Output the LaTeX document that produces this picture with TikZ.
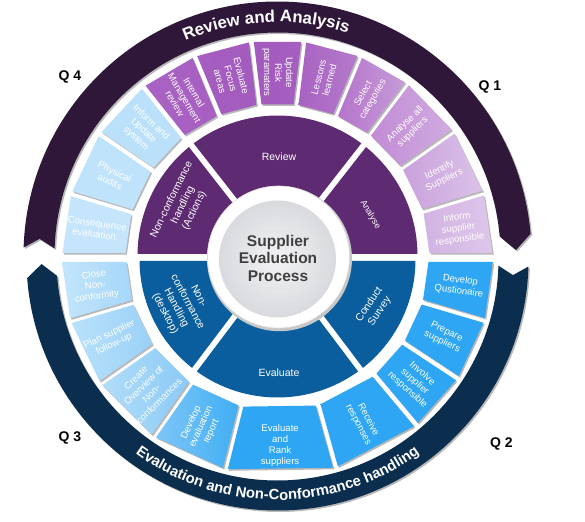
\documentclass[tikz,border=0pt]{standalone}
\usepackage{fontspec}
\setmainfont{Liberation Sans}
\usetikzlibrary{decorations.text}
\definecolor{bandP}{HTML}{2E1739}
\definecolor{bandB}{HTML}{0B2E4E}
\definecolor{segP}{HTML}{5E2A72}
\definecolor{segB}{HTML}{0B5E9E}
\definecolor{ctext}{HTML}{404040}
\definecolor{shadowc}{HTML}{B8B8B8}
\definecolor{discin}{HTML}{F3F3F4}
\definecolor{discout}{HTML}{D8DADE}
% upper boxes
\definecolor{uA}{HTML}{C4E5FB}
\definecolor{uB}{HTML}{BFE3FA}
\definecolor{uC}{HTML}{BBE1FA}
\definecolor{p4a}{HTML}{A963C3}\definecolor{p4b}{HTML}{A75FC1}
\definecolor{p5a}{HTML}{A55DC0}\definecolor{p5b}{HTML}{A35BBE}
\definecolor{p6a}{HTML}{A25ABD}\definecolor{p6b}{HTML}{A55FC0}
\definecolor{p7a}{HTML}{A862C2}\definecolor{p7b}{HTML}{B47BCB}
\definecolor{p8a}{HTML}{B575CB}\definecolor{p8b}{HTML}{C69BD8}
\definecolor{p9a}{HTML}{C18CD5}\definecolor{p9b}{HTML}{D0ABE0}
\definecolor{p10a}{HTML}{C9A1DC}\definecolor{p10b}{HTML}{DBC2E8}
\definecolor{p11a}{HTML}{D2B3E2}\definecolor{p11b}{HTML}{DEC6EA}
% lower boxes
\definecolor{bB}{HTML}{2EA6F3}
\definecolor{l6a}{HTML}{7FC6F7}\definecolor{l6b}{HTML}{3FAEF3}
\definecolor{l7a}{HTML}{B1DDF9}\definecolor{l7b}{HTML}{8BCAF6}
\definecolor{l8a}{HTML}{B9E1FA}\definecolor{l8b}{HTML}{9AD1F8}
\definecolor{l9a}{HTML}{C2E5FB}\definecolor{l9b}{HTML}{A6D7F9}

\newcommand\boxpath[6]{({#1-#5/#3*57.2958}:#3) -- ({#2+#6/#3*57.2958}:#3) -- ({#2+#6/#4*57.2958}:#4) -- ({#1-#5/#4*57.2958}:#4) -- cycle}
\newcommand\sectorpath[6]{({#1-#5/#4*57.2958}:#4) arc[start angle={#1-#5/#4*57.2958}, end angle={#2+#6/#4*57.2958}, radius=#4] -- ({#2+#6/#3*57.2958}:#3) arc[start angle={#2+#6/#3*57.2958}, end angle={#1-#5/#3*57.2958}, radius=#3] -- cycle}

\tikzset{
  boxtext/.style={text=white, font=\fontsize{9.6}{11}\selectfont, align=center, inner sep=0pt},
  segtext/.style={text=white, font=\fontsize{10.5}{12.6}\selectfont, align=center, inner sep=0pt},
  qlabel/.style={font=\bfseries\fontsize{14}{14}\selectfont, text=black, inner sep=0pt},
  centretext/.style={font=\bfseries\fontsize{15.5}{17.5}\selectfont, text=ctext, align=center, inner sep=0pt},
  boxshadow/.style={fill=shadowc},
}
\begin{document}
\begin{tikzpicture}[x=1pt,y=1pt]
\fill[white] (-277.5,-263.5) rectangle (307.5,257.5);
\useasboundingbox (-277.5,-263.5) rectangle (307.5,257.5);

% ---------------- upper half ----------------
\begin{scope}[yshift=2pt]
  \fill[shadowc, shift={(1.5,-1.5)}] (178.2:254) arc[start angle=178.2, end angle=4.9, radius=254] -- (1.3:238.5) -- (4.9:223) arc[start angle=4.9, end angle=178.2, radius=223] -- (176:238.5) -- cycle;
  \fill[bandP] (178.2:254) arc[start angle=178.2, end angle=4.9, radius=254] -- (1.3:238.5) -- (4.9:223) arc[start angle=4.9, end angle=178.2, radius=223] -- (176:238.5) -- cycle;
  \path[decorate, decoration={text along path, text align=center, text={|\color{white}\bfseries\fontsize{16.8}{16.8}\selectfont|Review and Analysis}}] (150:233.5) arc[start angle=150, end angle=35.7, radius=233.5];

  \fill[segP] \sectorpath{180}{128}{58}{140}{1.5}{3};
  \fill[segP] \sectorpath{128}{52}{58}{140}{3}{3};
  \fill[segP] \sectorpath{52}{0}{58}{140}{3}{1.5};

  \foreach \n/\aS/\aE/\cA/\cB/\rot/\tr/\txt in {
    u1/180/163.3/uA/uA/-8.35/183/{Consequence\\evaluation.},
    u2/163.3/145.6/uB/uB/-25.55/183/{Physical\\audits},
    u3/145.6/128.5/uC/uC/-42.95/183/{Inform and\\Update\\system},
    u4/128.5/112.6/p4a/p4b/-59.45/183/{Internal\\Management\\review},
    u5/112.6/97/p5a/p5b/-75.2/183/{Evaluate\\Focus\\areas},
    u6/97/83/p6a/p6b/-90/183/{Update\\Risk\\paramaters},
    u7/83/67.5/p7a/p7b/75.25/183/{Lessons\\learned},
    u8/67.5/53/p8a/p8b/60.25/183/{Select\\categories},
    u9/53/35.2/p9a/p9b/44.1/183/{Analyse all\\suppliers},
    u10/35.2/16.9/p10a/p10b/26.05/183/{Identify\\Suppliers},
    u11/16.9/0/p11a/p11b/8.45/183/{Inform\\supplier\\responsible}}{
    \fill[boxshadow, shift={(1.3,-1.6)}] \boxpath{\aS}{\aE}{152}{215}{2.5}{2.5};
    \path[left color=\cA, right color=\cB] \boxpath{\aS}{\aE}{152}{215}{2.5}{2.5};
    \node[boxtext, rotate=\rot] (\n) at ({(\aS+\aE)/2}:\tr) {\txt};
  }
\end{scope}

% ---------------- lower half ----------------
\begin{scope}[yshift=-2pt]
  \fill[shadowc, shift={(1.5,-1.5)}] (-1.6:251) arc[start angle=-1.6, end angle=-175.75, radius=251] -- (-178.9:236) -- (-175.75:221) arc[start angle=-175.75, end angle=-1.6, radius=221] -- (-3.8:236) -- cycle;
  \fill[bandB] (-1.6:251) arc[start angle=-1.6, end angle=-175.75, radius=251] -- (-178.9:236) -- (-175.75:221) arc[start angle=-175.75, end angle=-1.6, radius=221] -- (-3.8:236) -- cycle;
  \path[decorate, decoration={text along path, text align=center, text={|\color{white}\bfseries\fontsize{14.8}{14.8}\selectfont|Evaluation and Non-Conformance handling}}] (-150:240.5) arc[start angle=-150, end angle=-30, radius=240.5];

  \fill[segB] \sectorpath{0}{-53}{58}{138}{1.5}{3};
  \fill[segB] \sectorpath{-53}{-127}{58}{138}{3}{3};
  \fill[segB] \sectorpath{-127}{-180}{58}{138}{3}{1.5};

  \foreach \n/\aS/\aE/\cA/\cB/\rot/\tr/\txt in {
    l1/0/-16.4/bB/bB/-8.2/184/{Develop\\Qustionaire},
    l2/-16.4/-33.4/bB/bB/-24.9/184/{Prepare\\suppliers},
    l3/-33.4/-50/bB/bB/-41.7/184/{Involve\\supplier\\responsible},
    l4/-50/-74.4/bB/bB/-62.2/184/{Receive\\responses},
    l5/-74.4/-104/bB/bB/0/186/{Evaluate\\and\\Rank\\suppliers},
    l6/-104/-125/l6a/l6b/65.5/184/{Develop\\evaluation\\report},
    l7/-125/-145/l7a/l7b/45/184/{Create\\Overview of\\Non-\\conformances},
    l8/-145/-163.5/l8a/l8b/25.75/184/{Plan supplier\\follow-up},
    l9/-163.5/-180/l9a/l9b/8.25/184/{Close\\Non-\\conformity}}{
    \fill[boxshadow, shift={(1.3,-1.6)}] \boxpath{\aS}{\aE}{151}{215.5}{2.5}{2.5};
    \path[left color=\cA, right color=\cB] \boxpath{\aS}{\aE}{151}{215.5}{2.5}{2.5};
    \node[boxtext, rotate=\rot] (\n) at ({(\aS+\aE)/2}:\tr) {\txt};
  }
\end{scope}

% ---------------- centre disc ----------------
\fill[black!22] (2,-1.2) circle (72.5);
\fill[white] (1,0.5) circle (71);
\draw[black!14, line width=0.6pt] (1,0.5) circle (71);
\shade[inner color=discin, outer color=discout] (0,-1.5) circle (58.5);
\node[centretext] (centre) at (0.5,-0.5) {Supplier\\Evaluation\\Process};

% ---------------- inner segment labels ----------------
\node[segtext] (review) at (1.5,100.5) {Review};
\node[segtext, font=\fontsize{8.8}{10}\selectfont, rotate=-59] (analyse) at (92.8,42.8) {Analyse};
\node[segtext, rotate=64] (ncact) at (-94.5,52.5) {Non-conformance\\handling\\(Actions)};
\node[segtext, rotate=56] (survey) at (97,-50.5) {Conduct\\Survey};
\node[segtext] (evaluate) at (1.5,-115.5) {Evaluate};
\node[segtext, rotate=-62] (ncdesk) at (-95.8,-47.5) {Non-\\conformance\\Handling\\(desktop)};

% ---------------- quarter labels ----------------
\node[qlabel] (q1) at (212.5,170.5) {Q 1};
\node[qlabel] (q4) at (-207.5,180.5) {Q 4};
\node[qlabel] (q3) at (-207.5,-180) {Q 3};
\node[qlabel] (q2) at (224,-186) {Q 2};
\end{tikzpicture}
\end{document}
